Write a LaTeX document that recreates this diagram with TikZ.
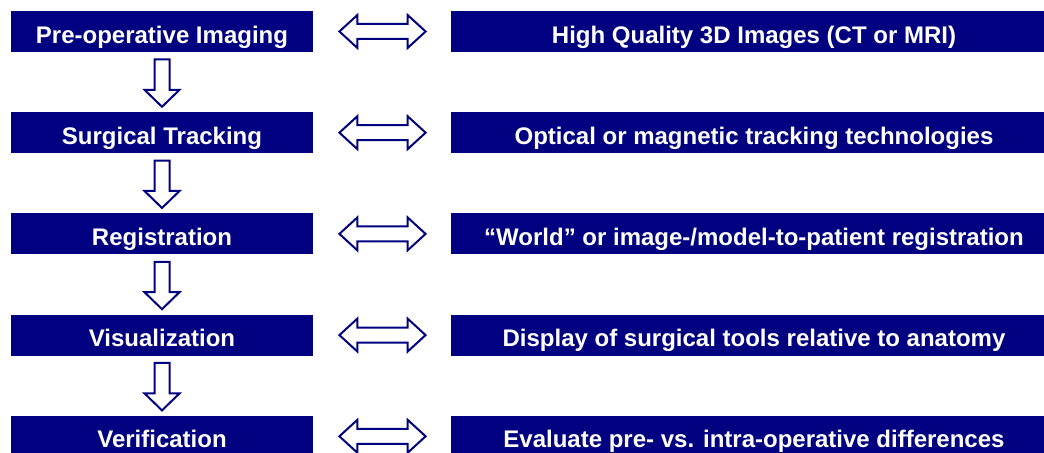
\documentclass[tikz,border=0pt]{standalone}
\usepackage{fontspec}
\setmainfont{Liberation Sans}
\usetikzlibrary{calc}
\definecolor{navyc}{HTML}{000080}
\tikzset{
  boxbase/.style={fill=navyc, draw=none, text=white, inner sep=0pt, minimum height=20.5pt,
    text height=11.6pt, text depth=0pt,
    font=\fontsize{12}{14}\selectfont\bfseries},
  lbox/.style={boxbase, minimum width=151pt},
  rbox/.style={boxbase, minimum width=303pt},
  blockarrow/.style={draw=navyc, fill=white, line width=1pt, line join=miter}
}
\newcommand\downarr[2]{%
  \path (#1.south) ++(0,7) coordinate (s);
  \path (#2.north) ++(0,-5) coordinate (t);
  \draw[blockarrow] ($(s)+(-7.5,0)$) -- ($(s)+(7.5,0)$) -- ($(t)+(7.5,-17)$) -- ($(t)+(17.5,-17)$)
    -- (t) -- ($(t)+(-17.5,-17)$) -- ($(t)+(-7.5,-17)$) -- cycle;}
\newcommand\dblarr[2]{%
  \path (#1.east) ++(26,0) coordinate (a);
  \path (#2.west) ++(-25,0) coordinate (b);
  \draw[blockarrow] (a) -- ($(a)+(18,-16.5)$) -- ($(a)+(18,-7.5)$) -- ($(b)+(-18,-7.5)$)
    -- ($(b)+(-18,-16.5)$) -- (b) -- ($(b)+(-18,16.5)$) -- ($(b)+(-18,7.5)$)
    -- ($(a)+(18,7.5)$) -- ($(a)+(18,16.5)$) -- cycle;}
\begin{document}
\begin{tikzpicture}[x=0.5pt, y=-0.5pt]
\useasboundingbox (0,0) rectangle (1044,453);
\clip (0,0) rectangle (1044,453);
\node[lbox] (L1) at (162,31.5) {Pre-operative Imaging};
\node[lbox] (L2) at (162,132.7) {Surgical Tracking};
\node[lbox] (L3) at (162,233.9) {Registration};
\node[lbox] (L4) at (162,335.1) {Visualization};
\node[lbox] (L5) at (162,436.3) {Verification};
\node[rbox] (R1) at (754,31.5) {High Quality 3D Images (CT or MRI)};
\node[rbox] (R2) at (754,132.7) {Optical or magnetic tracking technologies};
\node[rbox] (R3) at (754,233.9) {“World” or image-/model-to-patient registration};
\node[rbox] (R4) at (754,335.1) {Display of surgical tools relative to anatomy};
\node[rbox] (R5) at (754,436.3) {Evaluate pre- vs. intra-operative differences};
\downarr{L1}{L2}
\downarr{L2}{L3}
\downarr{L3}{L4}
\downarr{L4}{L5}
\dblarr{L1}{R1}
\dblarr{L2}{R2}
\dblarr{L3}{R3}
\dblarr{L4}{R4}
\dblarr{L5}{R5}
\end{tikzpicture}
\end{document}
